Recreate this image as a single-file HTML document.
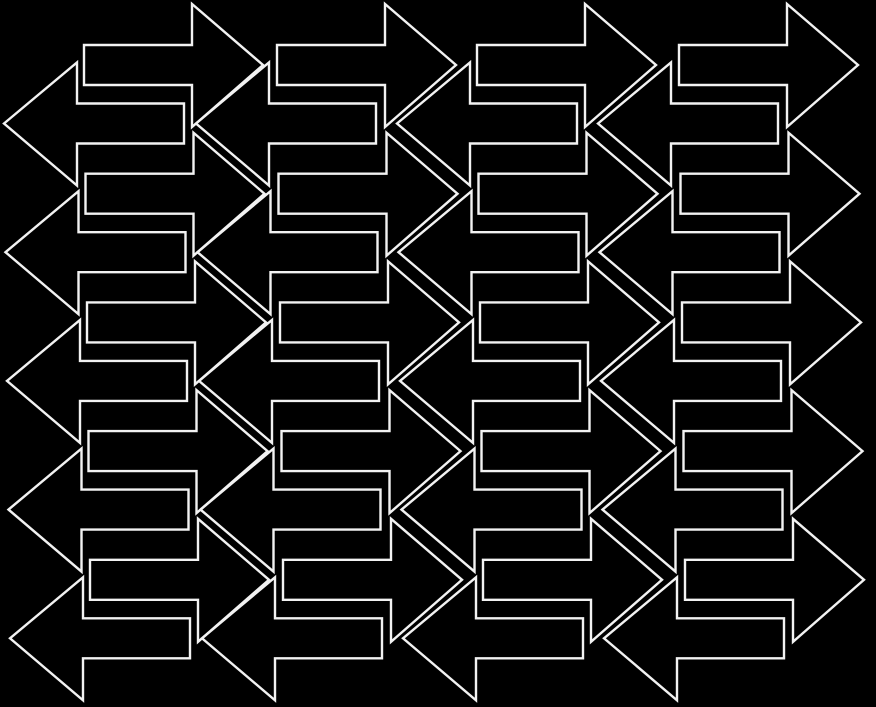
<!DOCTYPE html>
<html><head><meta charset="utf-8"><style>
html,body{margin:0;padding:0;background:#000;width:876px;height:707px;overflow:hidden}
svg{display:block}
</style></head><body>
<svg width="876" height="707" viewBox="0 0 876 707" xmlns="http://www.w3.org/2000/svg">
<g fill="none" stroke="#f2f2f2" stroke-width="2.4" stroke-linejoin="miter">
<script>/* none */</script>
</g>
<g id="g" fill="none" stroke="#f2f2f2" stroke-width="2.4">
<!-- generated polygons -->
</g>
</svg>
<script>
(function(){
var g=document.getElementById('g');var ns='http://www.w3.org/2000/svg';
var R=[84,277,477,679], L=[4,196,397,598];
function poly(pts){var p=document.createElementNS(ns,'polygon');p.setAttribute('points',pts.map(function(a){return a[0].toFixed(1)+','+a[1].toFixed(1)}).join(' '));g.appendChild(p);}
for(var r=0;r<5;r++){
 var d=1.5*r;
 for(var c=0;c<4;c++){
  var x=R[c]+d, y=65+128.7*r;
  poly([[x,y-20],[x+108,y-20],[x+108,y-61],[x+179,y],[x+108,y+62],[x+108,y+20],[x,y+20]]);
  var t=L[c]+d, yl=123.5+128.7*r;
  poly([[t,yl],[t+73,yl-61],[t+73,yl-20],[t+180,yl-20],[t+180,yl+20],[t+73,yl+20],[t+73,yl+62]]);
 }
}
})();
</script>
</body></html>
